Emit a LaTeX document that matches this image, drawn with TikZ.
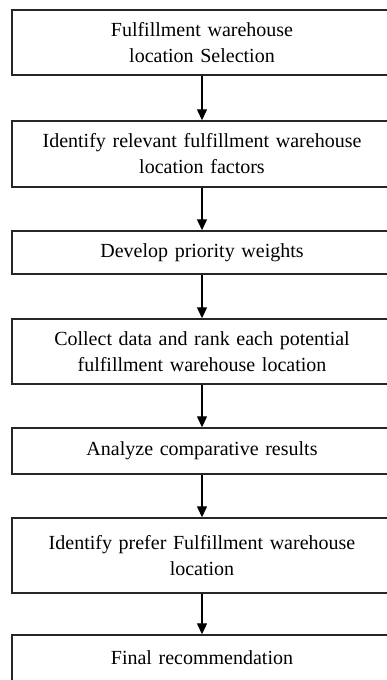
\documentclass[tikz,border=0pt]{standalone}
\usepackage{fontspec}
\setmainfont{Liberation Serif}
\usetikzlibrary{arrows.meta}

\begin{document}
\begin{tikzpicture}[x=1pt,y=-1pt]
  \tikzset{step box/.style = {shape=rectangle,draw=black!85,line width=1.4pt,minimum width=380pt,text width=370pt,align=center,inner sep=0pt,font=\fontsize{20}{26}\selectfont}}
  \tikzset{flow/.style = {-{Triangle[length=11pt,width=10pt]},line width=1.3pt}}
	\useasboundingbox (0,0) rectangle (387,680);
	\clip (0,0) rectangle (387,680);
	\node[step box,minimum height=65pt] (1) at (202,42.5) {Fulfillment warehouse\\location Selection};
	\node[step box,minimum height=66pt] (2) at (202,154) {Identify relevant fulfillment warehouse\\location factors};
	\node[step box,minimum height=43pt] (3) at (202,252.5) {Develop priority weights};
	\node[step box,minimum height=65pt] (4) at (202,351.5) {Collect data and rank each potential\\fulfillment warehouse location};
	\node[step box,minimum height=46pt] (5) at (202,451) {Analyze comparative results};
	\node[step box,minimum height=75pt] (6) at (202,555.5) {Identify prefer Fulfillment warehouse\\location};
	\node[step box,minimum height=46pt] (7) at (202,658) {Final recommendation};


    \foreach \from/\to in {1/2,2/3,3/4,4/5,5/6,6/7}
    \draw[flow] (\from) -- (\to);

\end{tikzpicture}
\end{document}
